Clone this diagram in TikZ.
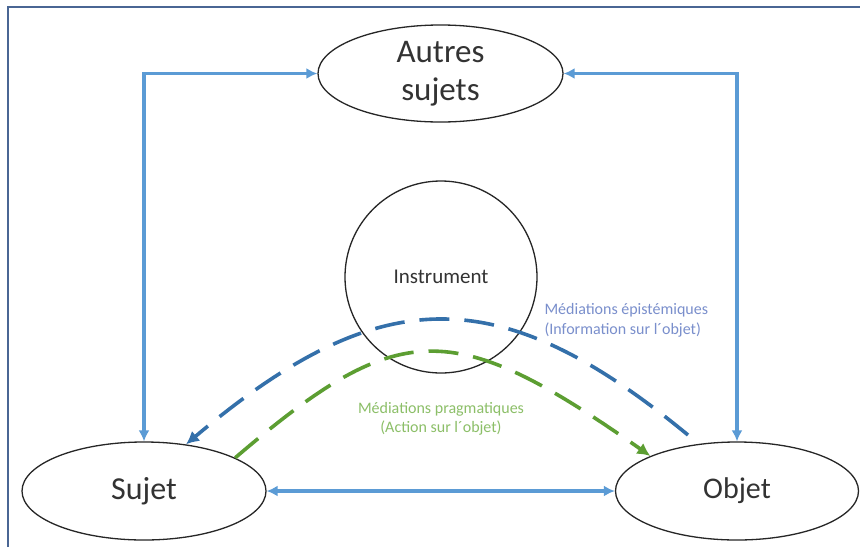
\documentclass[tikz,border=0pt]{standalone}
\usepackage{fontspec}
\setmainfont{Carlito}
\usetikzlibrary{shapes.geometric,arrows.meta}
\definecolor{lblue}{HTML}{5B9BD5}
\definecolor{dblue}{HTML}{3470AA}
\definecolor{dgreen}{HTML}{5C9E32}
\definecolor{tblue}{HTML}{7A8FCC}
\definecolor{tgreen}{HTML}{8CBF68}
\definecolor{framec}{HTML}{4A6694}
\tikzset{
  oval/.style={draw=black!85, line width=1.3pt, ellipse, inner sep=0pt, text=black!80},
  link/.style={draw=lblue, line width=3.2pt, {Latex[length=11pt,width=11pt]}-{Latex[length=11pt,width=11pt]}},
  bluedash/.style={draw=dblue, line width=3.6pt, dash pattern=on 30pt off 15pt, -{Latex[length=13pt,width=13pt]}},
  greendash/.style={draw=dgreen, line width=3.6pt, dash pattern=on 30pt off 15pt, -{Latex[length=13pt,width=13pt]}},
}
\begin{document}
\begin{tikzpicture}[x=1pt,y=-1pt]
\useasboundingbox (0,0) rectangle (860,547);
\fill[white] (0,0) rectangle (860,547);
\draw[framec, line width=2pt] (8,547) |- (860,7);

\node[oval, minimum width=245pt, minimum height=97pt, font=\fontsize{33}{38}\selectfont, align=center] (autres) at (440.5,73.5) {Autres\\sujets};
\node[oval, minimum width=192pt, minimum height=192pt, circle, font=\fontsize{21}{25}\selectfont] (instr) at (441,277) {Instrument};
\node[oval, minimum width=244pt, minimum height=98pt, font=\fontsize{32}{36}\selectfont] (sujet) at (144,491) {Sujet};
\node[oval, minimum width=243pt, minimum height=98pt, font=\fontsize{30}{36}\selectfont] (objet) at (737,491) {Objet};

\draw[link] (sujet.north) |- (autres.west);
\draw[link] (objet.north) |- (autres.east);
\draw[link] (sujet.east) -- (objet.west);

\coordinate (bstart) at (688,435);
\draw[bluedash] (bstart) .. controls (500,280) and (381,280) .. (sujet.48);
\draw[greendash] (sujet.20) .. controls (400,317) and (452,317) .. (objet.158);

\node[anchor=west, text=tblue, align=left, font=\fontsize{16}{20}\selectfont] (epi) at (541,320) {Médiations épistémiques\\(Information sur l´objet)};
\node[text=tgreen, align=center, font=\fontsize{16}{19}\selectfont] (prag) at (441,419) {Médiations pragmatiques\\(Action sur l´objet)};
\end{tikzpicture}
\end{document}
